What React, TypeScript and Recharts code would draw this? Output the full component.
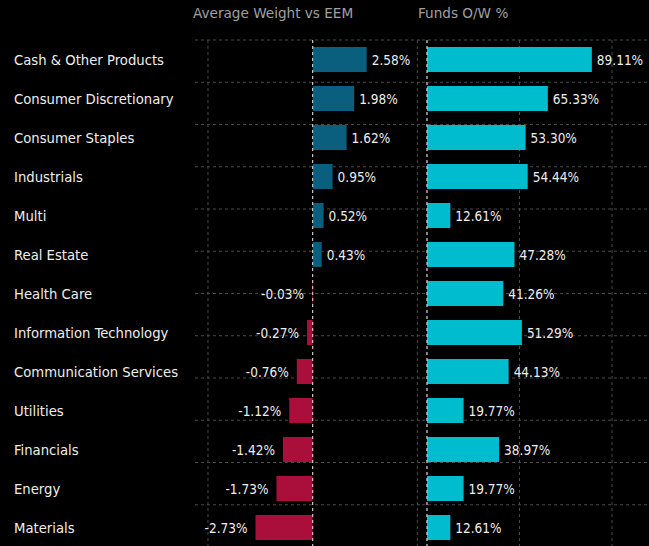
import { Bar, BarChart, CartesianGrid, Cell, LabelList, ReferenceLine, XAxis, YAxis } from "recharts";

const CATEGORIES = [
  "Cash & Other Products",
  "Consumer Discretionary",
  "Consumer Staples",
  "Industrials",
  "Multi",
  "Real Estate",
  "Health Care",
  "Information Technology",
  "Communication Services",
  "Utilities",
  "Financials",
  "Energy",
  "Materials"
];

const AVG_WEIGHT = [2.58, 1.98, 1.62, 0.95, 0.52, 0.43, -0.03, -0.27, -0.76, -1.12, -1.42, -1.73, -2.73];
const FUNDS_OW = [89.11, 65.33, 53.3, 54.44, 12.61, 47.28, 41.26, 51.29, 44.13, 19.77, 38.97, 19.77, 12.61];

const LEFT_TICKS = [-5, 0, 5];
const RIGHT_TICKS = [0, 50, 100];
const ROW_LINES = CATEGORIES.slice(1).map((_, i) => i + 1);

const POS = "#0a5f7e";
const NEG = "#aa0e3a";
const CYAN = "#00bccf";
const GRID = "#4a4a4a";
const FONT = "'DejaVu Sans Condensed', 'DejaVu Sans', sans-serif";

const rows = CATEGORIES.map((name, i) => ({ name, avg: AVG_WEIGHT[i], ow: FUNDS_OW[i] }));

function ValueLabel(props: any) {
  const { x, y, width, height, value } = props;
  const left = Math.min(x, x + width);
  const right = Math.max(x, x + width);
  const neg = value < 0;
  return (
    <text
      x={neg ? left - 8 : right + 5}
      y={y + height / 2}
      fill="#eeeeee"
      fontSize={13.5}
      fontFamily={FONT}
      textAnchor={neg ? "end" : "start"}
      dominantBaseline="central"
    >
      {`${Number(value).toFixed(2)}%`}
    </text>
  );
}

function CategoryTick(props: any) {
  const { y, payload } = props;
  return (
    <text x={14} y={y} fill="#eeeeee" fontSize={14.7} fontFamily={FONT} dominantBaseline="central">
      {payload.value}
    </text>
  );
}

const titleStyle = {
  position: "absolute" as const,
  top: 5,
  color: "#a0a0a0",
  fontSize: 13.6,
  fontFamily: "'DejaVu Sans', sans-serif"
};

export default function App() {
  return (
    <div
      style={{
        position: "absolute",
        left: 0,
        top: 0,
        width: 649,
        height: 546,
        background: "#000",
        overflow: "hidden"
      }}
    >
      <div style={{ ...titleStyle, left: 193 }}>Average Weight vs EEM</div>
      <div style={{ ...titleStyle, left: 418 }}>Funds O/W %</div>

      <div style={{ position: "absolute", left: 0, top: 0 }}>
        <BarChart
          width={422}
          height={547}
          data={rows}
          layout="vertical"
          margin={{ top: 40, right: 0, bottom: 0, left: 0 }}
          barSize={25}
        >
          <XAxis type="number" hide domain={[-5.62, 5.22]} ticks={LEFT_TICKS} allowDataOverflow />
          <YAxis
            yAxisId="cat"
            type="category"
            dataKey="name"
            width={195}
            axisLine={false}
            tickLine={false}
            tick={<CategoryTick />}
            interval={0}
          />
          <YAxis yAxisId="grid" type="number" hide domain={[0, 13]} ticks={ROW_LINES} reversed allowDataOverflow />
          <CartesianGrid yAxisId="grid" stroke={GRID} strokeDasharray="3 3" syncWithTicks />
          <Bar yAxisId="cat" dataKey="avg" isAnimationActive={false}>
            {rows.map((r) => (
              <Cell key={r.name} fill={r.avg < 0 ? NEG : POS} />
            ))}
            <LabelList dataKey="avg" content={<ValueLabel />} />
          </Bar>
          <ReferenceLine yAxisId="cat" x={0} stroke="#e0e0e0" strokeDasharray="3 3" />
        </BarChart>
      </div>

      <div style={{ position: "absolute", left: 422, top: 0 }}>
        <BarChart
          width={227}
          height={547}
          data={rows}
          layout="vertical"
          margin={{ top: 40, right: 0, bottom: 0, left: 0 }}
          barSize={25}
        >
          <XAxis type="number" hide domain={[-2.7, 120]} ticks={RIGHT_TICKS} allowDataOverflow />
          <YAxis yAxisId="cat" type="category" dataKey="name" hide />
          <YAxis yAxisId="grid" type="number" hide domain={[0, 13]} ticks={ROW_LINES} reversed allowDataOverflow />
          <CartesianGrid yAxisId="grid" stroke={GRID} strokeDasharray="3 3" syncWithTicks />
          <Bar yAxisId="cat" dataKey="ow" fill={CYAN} isAnimationActive={false}>
            <LabelList dataKey="ow" content={<ValueLabel />} />
          </Bar>
          <ReferenceLine yAxisId="cat" x={0} stroke="#e0e0e0" strokeDasharray="3 3" />
        </BarChart>
      </div>
    </div>
  );
}
